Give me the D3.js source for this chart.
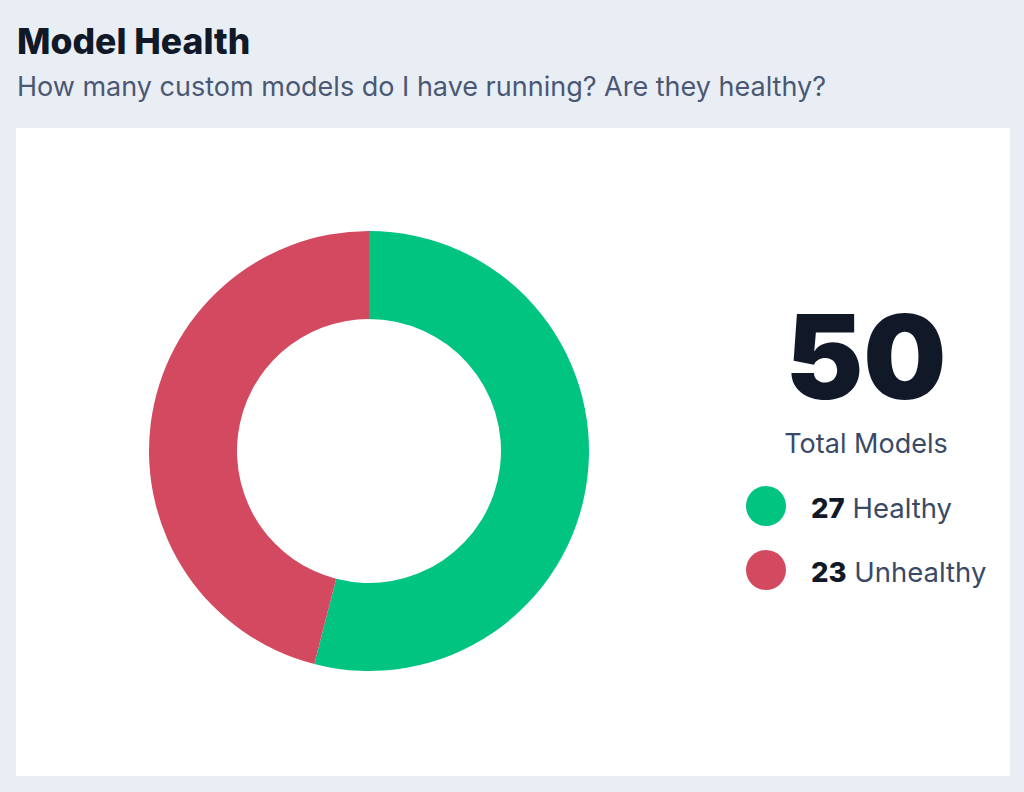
<!DOCTYPE html>
<html><head><meta charset="utf-8">
<script src="https://cdn.jsdelivr.net/npm/d3@7"></script>
<style>
html,body{margin:0;padding:0;background:#e9eef5;}
svg{display:block;font-family:Inter,"Noto Sans",sans-serif;}
</style></head>
<body>
<svg id="c" width="1024" height="792"></svg>
<script>
const categories = ["Healthy", "Unhealthy"];
const values = [27, 23];
const colors = ["#00c480", "#d3495f"];
const title = "Model Health";
const subtitle = "How many custom models do I have running? Are they healthy?";
const totalLabel = "Total Models";

const svg = d3.select("#c");
svg.append("rect").attr("width",1024).attr("height",792).attr("fill","#e9eef5");
svg.append("text").attr("x",17).attr("y",54).attr("font-size",35.5).attr("font-weight",800)
  .attr("fill","#111827").text(title);
svg.append("text").attr("x",17).attr("y",96).attr("font-size",27).attr("font-weight",400)
  .attr("fill","#4b5873").text(subtitle);
svg.append("rect").attr("x",16).attr("y",128).attr("width",994).attr("height",648).attr("fill","#fff");

const data = categories.map((c,i)=>({cat:c, value:values[i], color:colors[i]}));
const pie = d3.pie().value(d=>d.value).sort(null);
const arc = d3.arc().innerRadius(132).outerRadius(220);
const g = svg.append("g").attr("transform","translate(369,451)");
g.selectAll("path").data(pie(data)).join("path").attr("d",arc).attr("fill",d=>d.data.color);

const total = d3.sum(values);
svg.append("text").attr("x",866).attr("y",399).attr("text-anchor","middle")
  .attr("font-size",117).attr("font-weight",900).attr("fill","#111827").text(total);
svg.append("text").attr("x",866).attr("y",453).attr("text-anchor","middle")
  .attr("font-size",27).attr("fill","#3a4a66").text(totalLabel);

const y = d3.scalePoint().domain(categories).range([506,570]);
const leg = svg.append("g").selectAll("g").data(data).join("g")
  .attr("transform",d=>`translate(0,${y(d.cat)})`);
leg.append("circle").attr("cx",766).attr("cy",0).attr("r",20).attr("fill",d=>d.color);
const t = leg.append("text").attr("x",811).attr("y",12).attr("font-size",27.5).attr("fill","#3a4a66");
t.append("tspan").attr("font-weight",800).attr("fill","#111827").text(d=>d.value);
t.append("tspan").text(d=>" "+d.cat);
</script>
</body></html>
